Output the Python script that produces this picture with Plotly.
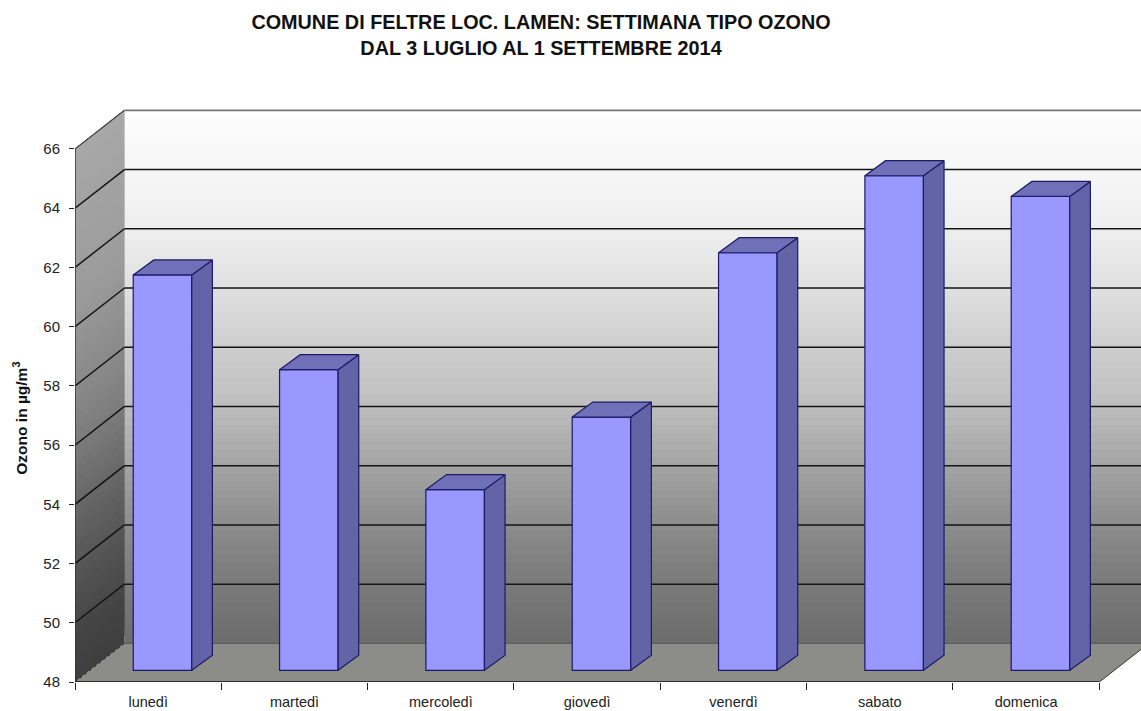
import plotly.graph_objects as go

categories = ["lunedì", "martedì", "mercoledì", "giovedì", "venerdì", "sabato", "domenica"]
ozono = [61.35, 58.15, 54.1, 56.55, 62.1, 64.7, 64.0]
y_ticks = [48, 50, 52, 54, 56, 58, 60, 62, 64, 66]

BASE, TOP = 48, 66
# pseudo-3D offsets in axis units
WALL_DX, WALL_DY = 0.338, 1.304
FRONT_DX, FRONT_DY = 0.098, 0.395
SIDE_DX, SIDE_DY = 0.141, 0.507
BAR_W = 0.4
X_MAX = 7.285
Y_MAX = 67.652

EDGE = "#1b1b66"
FRONT = "#9898ff"
SIDE = "#6363a8"
ROOF = "#7070b8"


def grey(v):
    v = int(round(v))
    return f"rgb({v},{v},{v})"


def lerp(stops, t):
    for (t0, c0), (t1, c1) in zip(stops, stops[1:]):
        if t <= t1:
            return c0 + (c1 - c0) * (t - t0) / (t1 - t0)
    return stops[-1][1]


def poly(pts, **kw):
    path = "M " + " L ".join(f"{x:.4f},{y:.4f}" for x, y in pts) + " Z"
    return dict(type="path", path=path, xref="x", yref="y", layer="below", **kw)


def seg(x0, y0, x1, y1, color, width, dash="solid", layer="below"):
    return dict(type="line", x0=x0, y0=y0, x1=x1, y1=y1, xref="x", yref="y", layer=layer,
                line=dict(color=color, width=width, dash=dash))


shapes = []
N = 66
span = TOP - BASE
back_stops = [(0, 108), (0.156, 128), (0.27, 150), (0.36, 170), (0.457, 192), (0.55, 205),
              (0.667, 224), (0.776, 238), (0.889, 246), (0.955, 250), (1, 255)]
side_stops = [(0, 62), (0.08, 68), (0.228, 88), (0.34, 105), (0.435, 122), (0.53, 135), (0.717, 155), (1, 168)]
# paint bottom-up, every band reaching to the top so later bands leave no seams
for i in range(N):
    a = BASE + span * i / N
    t = (i + 0.5) / N
    shapes.append(dict(type="rect", x0=WALL_DX, x1=X_MAX + 1, y0=a + WALL_DY, y1=TOP + WALL_DY,
                       xref="x", yref="y", layer="below",
                       fillcolor=grey(lerp(back_stops, t)), line=dict(width=0)))
    shapes.append(poly([(0, a), (WALL_DX, a + WALL_DY), (WALL_DX, TOP + WALL_DY), (0, TOP)],
                       fillcolor=grey(lerp(side_stops, t)), line=dict(width=0)))

# floor
shapes.append(poly([(0, BASE), (7, BASE), (7 + WALL_DX, BASE + WALL_DY), (WALL_DX, BASE + WALL_DY)],
                   fillcolor="#8c8c89", line=dict(width=0)))
shapes.append(seg(WALL_DX, BASE + WALL_DY, X_MAX + 1, BASE + WALL_DY, "#555555", 1))
shapes.append(seg(0, BASE, WALL_DX, BASE + WALL_DY, "#222222", 1, dash="dot"))
shapes.append(seg(7, BASE, 7 + WALL_DX, BASE + WALL_DY, "#333333", 1))

# gridlines on both walls
for v in y_ticks[1:-1]:
    shapes.append(seg(0, v, WALL_DX, v + WALL_DY, "#151515", 1.5))
    shapes.append(seg(WALL_DX, v + WALL_DY, X_MAX + 1, v + WALL_DY, "#151515", 1.5))
shapes.append(seg(0, TOP, WALL_DX, TOP + WALL_DY, "#444444", 1.2))
shapes.append(seg(WALL_DX, TOP + WALL_DY, X_MAX + 1, TOP + WALL_DY, "#777777", 1.8))
# axis lines
shapes.append(seg(0, BASE, 0, TOP, "#333333", 1.5))
shapes.append(seg(0, BASE, 7, BASE, "#111111", 1.5))

centers = [i + 0.5 + FRONT_DX for i in range(len(categories))]

side_x, side_y, roof_x, roof_y = [], [], [], []
for c, v in zip(centers, ozono):
    l, r = c - BAR_W / 2, c + BAR_W / 2
    yb, yt = BASE + FRONT_DY, v + FRONT_DY
    side_x += [r, r + SIDE_DX, r + SIDE_DX, r, r, None]
    side_y += [yb, yb + SIDE_DY, yt + SIDE_DY, yt, yb, None]
    roof_x += [l, l + SIDE_DX, r + SIDE_DX, r, l, None]
    roof_y += [yt, yt + SIDE_DY, yt + SIDE_DY, yt, yt, None]

fig = go.Figure()
fig.add_trace(go.Bar(
    x=centers, y=[v - BASE for v in ozono], base=BASE + FRONT_DY, width=BAR_W,
    marker=dict(color=FRONT, line=dict(color=EDGE, width=1.2)),
    customdata=categories, hoverinfo="skip", showlegend=False,
))
for xs, ys, col in [(side_x, side_y, SIDE), (roof_x, roof_y, ROOF)]:
    fig.add_trace(go.Scatter(
        x=xs, y=ys, mode="lines", fill="toself", fillcolor=col,
        line=dict(color=EDGE, width=1.2), hoverinfo="skip", showlegend=False,
    ))

FONT = "Liberation Sans, Arial, sans-serif"
fig.update_layout(
    width=1141, height=711,
    margin=dict(l=74.5, r=0, t=100, b=29.3, pad=0, autoexpand=False),
    paper_bgcolor="white", plot_bgcolor="white",
    font=dict(family=FONT, color="#222222"),
    shapes=shapes,
    title=dict(
        text="<b>COMUNE DI FELTRE LOC. LAMEN: SETTIMANA TIPO OZONO<br>DAL 3 LUGLIO AL 1 SETTEMBRE 2014</b>",
        x=541 / 1141, xanchor="center", y=1 - 29 / 711, yanchor="middle",
        font=dict(size=19.8, color="#111111", family=FONT),
    ),
    xaxis=dict(
        range=[0, X_MAX], showgrid=False, zeroline=False, showline=False,
        tickmode="array", tickvals=[i + 0.5 for i in range(7)], ticktext=categories,
        ticks="outside", ticklen=7, tickcolor="rgba(0,0,0,0)", ticklabelstandoff=0,
        tickfont=dict(size=14.5, family=FONT, color="#222222"),
        minor=dict(tickmode="array", tickvals=list(range(8)), ticks="outside",
                   ticklen=7, tickwidth=1, tickcolor="#222222"),
        automargin=False,
    ),
    yaxis=dict(
        range=[BASE, Y_MAX], showgrid=False, zeroline=False, showline=False,
        tickmode="array", tickvals=y_ticks,
        ticks="outside", ticklen=5, tickwidth=1, tickcolor="#222222", ticklabelstandoff=6,
        tickfont=dict(size=15, family=FONT, color="#222222"),
        automargin=False,
    ),
    annotations=[dict(
        text="<b>Ozono in µg/m<sup>3</sup></b>", textangle=-90, showarrow=False,
        xref="paper", yref="paper", x=-54.5 / 1066.5, y=(681.7 - 418) / 581.7,
        xanchor="center", yanchor="middle",
        font=dict(size=15.5, family=FONT, color="#111111"),
    )],
)

fig.write_html("out.html", config=dict(displayModeBar=False),
               post_script="document.body.style.margin='0';document.body.style.overflow='hidden';")
